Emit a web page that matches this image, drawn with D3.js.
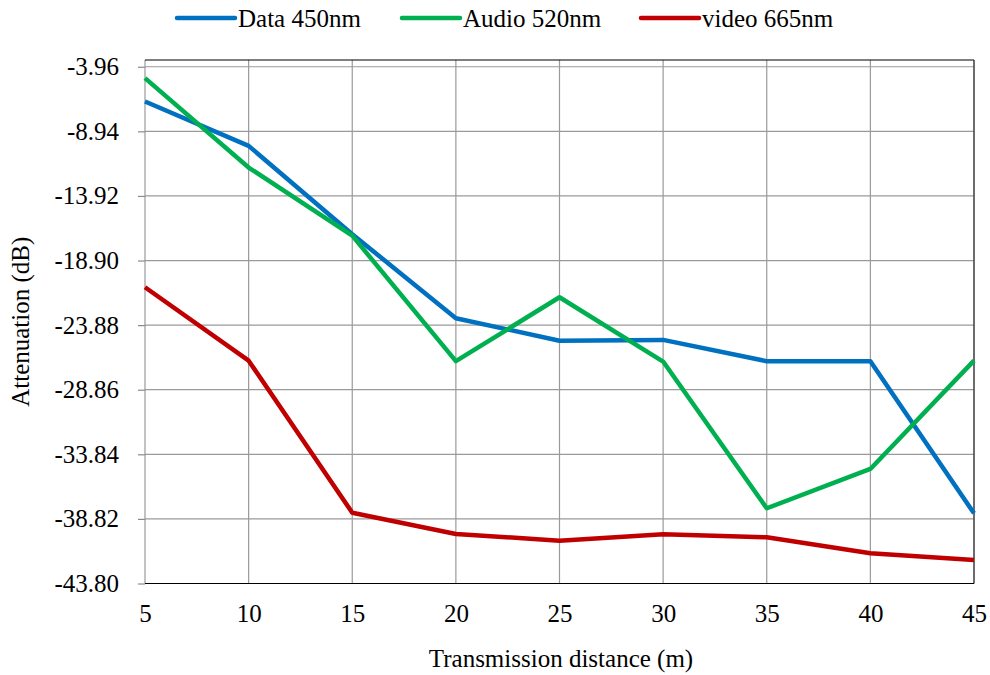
<!DOCTYPE html>
<html>
<head>
<meta charset="utf-8">
<title>Attenuation vs distance</title>
<script src="https://d3js.org/d3.v7.min.js"></script>
<style>
  body { margin: 0; background: white; }
  svg text { font-family: "Liberation Serif", "Times New Roman", serif; fill: #000; }
</style>
</head>
<body>
<script>
// distances (m)
const distances = [5, 10, 15, 20, 25, 30, 35, 40, 45];
// attenuation (dB)
const dataSeries = [-6.64, -10.06, -16.87, -23.35, -25.08, -25.02, -26.66, -26.66, -38.39];
const audioSeries = [-4.84, -11.73, -16.98, -26.66, -21.73, -26.69, -38.0, -34.97, -26.62];
const videoSeries = [-20.96, -26.62, -38.34, -39.98, -40.5, -40.01, -40.24, -41.47, -41.99];
const seriesNames = ["Data 450nm", "Audio 520nm", "video 665nm"];
const yTicks = [-43.80, -38.82, -33.84, -28.86, -23.88, -18.90, -13.92, -8.94, -3.96];

const width = 990, height = 675;
const margin = { top: 60, right: 16, bottom: 91.5, left: 145 };
const colors = ["#0070C0", "#00B050", "#C00000"];

const svg = d3.select("body").append("svg")
  .attr("width", width)
  .attr("height", height);

const x = d3.scaleLinear()
  .domain([5, 45])
  .range([margin.left, width - margin.right]);

const y = d3.scaleLinear()
  .domain([-43.80, -3.44])
  .range([height - margin.bottom, margin.top]);

// grid
const grid = svg.append("g").attr("stroke", "#9a9a9a").attr("stroke-width", 1.2);
grid.selectAll("line.h").data(yTicks).join("line")
  .attr("class", "h")
  .attr("x1", margin.left).attr("x2", width - margin.right)
  .attr("y1", d => y(d)).attr("y2", d => y(d));
grid.selectAll("line.v").data(distances).join("line")
  .attr("class", "v")
  .attr("x1", d => x(d)).attr("x2", d => x(d))
  .attr("y1", margin.top).attr("y2", height - margin.bottom);

// y axis (plain hyphen for the minus, like the original)
const yAxis = svg.append("g")
  .attr("transform", `translate(${margin.left},0)`)
  .call(d3.axisLeft(y).tickValues(yTicks).tickFormat(d => d.toFixed(2)).tickSize(7).tickPadding(19));
yAxis.select(".domain").remove();
yAxis.selectAll(".tick line").attr("stroke", "#8a8a8a").attr("stroke-width", 1.2);
yAxis.selectAll(".tick text").attr("font-size", 25);

// x axis
const xAxis = svg.append("g")
  .attr("transform", `translate(0,${height - margin.bottom})`)
  .call(d3.axisBottom(x).tickValues(distances).tickSize(0).tickPadding(21));
xAxis.select(".domain").remove();
xAxis.selectAll(".tick text").attr("font-size", 25);

// plot border
svg.append("line")
  .attr("x1", margin.left).attr("x2", width - margin.right)
  .attr("y1", margin.top).attr("y2", margin.top)
  .attr("stroke", "#000").attr("stroke-width", 1.2);
svg.append("line")
  .attr("x1", width - margin.right).attr("x2", width - margin.right)
  .attr("y1", margin.top).attr("y2", height - margin.bottom)
  .attr("stroke", "#333").attr("stroke-width", 1.2);
svg.append("line")
  .attr("x1", margin.left).attr("x2", width - margin.right)
  .attr("y1", height - margin.bottom).attr("y2", height - margin.bottom)
  .attr("stroke", "#000").attr("stroke-width", 1.2);

// series
const line = d3.line().x(d => x(d[0])).y(d => y(d[1]));
const allSeries = [dataSeries, audioSeries, videoSeries];
svg.append("g").selectAll("path")
  .data(allSeries)
  .join("path")
  .attr("d", s => line(s.map((v, i) => [distances[i], v])))
  .attr("fill", "none")
  .attr("stroke", (s, i) => colors[i])
  .attr("stroke-width", 4.5)
  .attr("stroke-linejoin", "round");

// legend
const legendX = [177, 402, 641];
const legend = svg.append("g").selectAll("g")
  .data(seriesNames)
  .join("g")
  .attr("transform", (d, i) => `translate(${legendX[i]},18)`);
legend.append("line")
  .attr("x1", 0).attr("x2", 58)
  .attr("stroke", (d, i) => colors[i])
  .attr("stroke-width", 4.5)
  .attr("stroke-linecap", "round");
legend.append("text")
  .attr("x", 61).attr("y", 8.5)
  .attr("font-size", 25)
  .text(d => d);

// axis titles
svg.append("text")
  .attr("x", 561).attr("y", 667)
  .attr("text-anchor", "middle")
  .attr("font-size", 25)
  .text("Transmission distance (m)");
svg.append("text")
  .attr("transform", `translate(29,${(margin.top + height - margin.bottom) / 2}) rotate(-90)`)
  .attr("text-anchor", "middle")
  .attr("font-size", 25)
  .text("Attenuation (dB)");
</script>
</body>
</html>
